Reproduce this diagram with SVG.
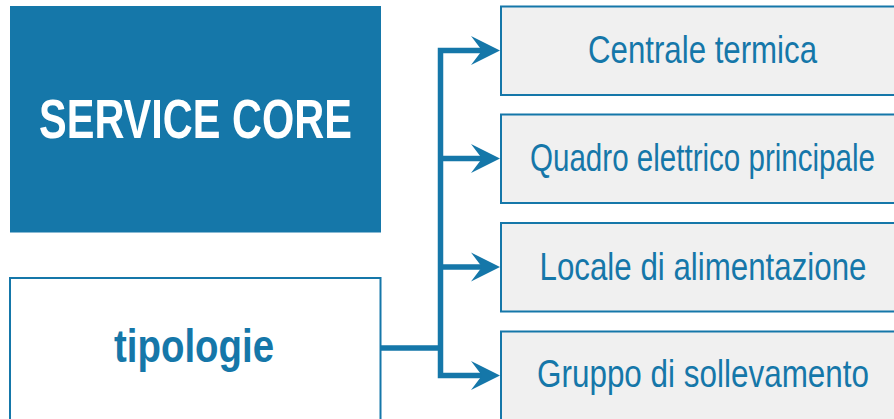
<svg xmlns="http://www.w3.org/2000/svg" width="894" height="419" viewBox="0 0 894 419">
<defs>
<style>
.bx{fill:#f0f0f0;stroke:#1577a9;stroke-width:2}
.lbl{font-family:"Liberation Sans Narrow","Liberation Sans",Arial,sans-serif;font-size:39px;fill:#1577a9;text-anchor:middle}
.ttl{font-family:"Liberation Sans Narrow","Liberation Sans",Arial,sans-serif;font-weight:bold;text-anchor:middle}
.ln{fill:none;stroke:#1577a9;stroke-width:5.5}
.ah{fill:#1577a9}
</style>
</defs>
<rect width="894" height="419" fill="#ffffff"/>
<g id="service-core">
<rect x="10" y="6" width="371" height="226.5" fill="#1577a9"/>
<text class="ttl" x="195.5" y="138.3" font-size="56" fill="#ffffff" textLength="313" lengthAdjust="spacingAndGlyphs">SERVICE CORE</text>
</g>
<g id="tipologie">
<rect x="10" y="278" width="370.5" height="143" fill="#ffffff" stroke="#1577a9" stroke-width="2"/>
<text class="ttl" x="194" y="362" font-size="46" fill="#1577a9" textLength="160" lengthAdjust="spacingAndGlyphs">tipologie</text>
</g>
<g id="centrale-termica">
<rect class="bx" x="501" y="6.5" width="395" height="88.5"/>
<text class="lbl" x="702.5" y="62.7" textLength="229" lengthAdjust="spacingAndGlyphs">Centrale termica</text>
</g>
<g id="quadro-elettrico">
<rect class="bx" x="501" y="114.5" width="395" height="88.5"/>
<text class="lbl" x="702.5" y="170.7" textLength="345" lengthAdjust="spacingAndGlyphs">Quadro elettrico principale</text>
</g>
<g id="locale-alimentazione">
<rect class="bx" x="501" y="223" width="395" height="88.5"/>
<text class="lbl" x="703" y="280" textLength="327" lengthAdjust="spacingAndGlyphs">Locale di alimentazione</text>
</g>
<g id="gruppo-sollevamento">
<rect class="bx" x="501" y="331.5" width="395" height="89"/>
<text class="lbl" x="703" y="386.7" textLength="332" lengthAdjust="spacingAndGlyphs">Gruppo di sollevamento</text>
</g>
<g id="connectors">
<path class="ln" d="M381 348H440.5M483 50.5H440.5V375.5H483M440.5 158.5H483M440.5 267H483"/>
<polygon class="ah" points="500,50.5 471,36 482,50.5 471,65"/>
<polygon class="ah" points="500,158.5 471,144 482,158.5 471,173"/>
<polygon class="ah" points="500,267 471,252.5 482,267 471,281.5"/>
<polygon class="ah" points="500,375.5 471,361 482,375.5 471,390"/>
</g>
</svg>
